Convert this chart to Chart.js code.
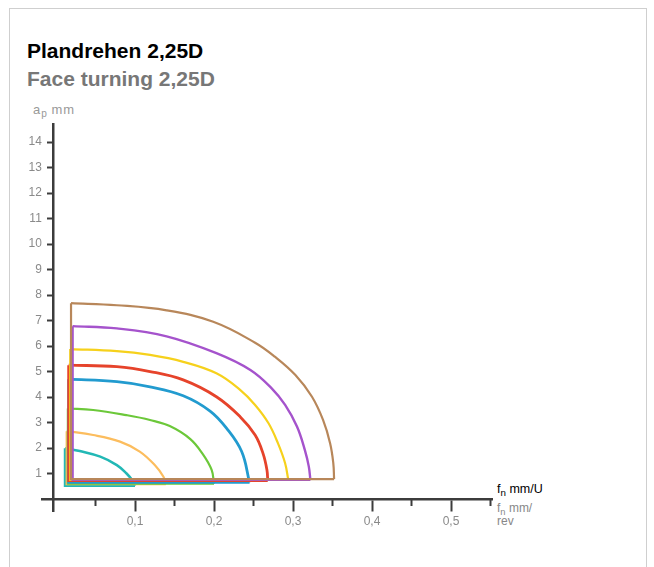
<!DOCTYPE html>
<html><head><meta charset="utf-8">
<script src="https://cdn.jsdelivr.net/npm/chart.js@4.4.0/dist/chart.umd.min.js"></script>
<style>
html,body{margin:0;padding:0;background:#fff;}
body{width:654px;height:567px;position:relative;overflow:hidden;font-family:"Liberation Sans",Arial,Helvetica,sans-serif;}
#frame{position:absolute;left:9px;top:8px;width:636px;height:620px;border:1px solid #cfcfcf;}
.t{position:absolute;white-space:nowrap;}
#t1{left:27px;top:41px;font-weight:bold;font-size:21px;line-height:20px;color:#000;}
#t2{left:27px;top:69px;font-weight:bold;font-size:21px;line-height:20px;color:#777;}
#ya{left:33px;top:104px;font-size:13px;line-height:12px;color:#999;letter-spacing:1px;}
#xa1{left:497px;top:483px;font-size:12.5px;line-height:12px;color:#000;}
#xa2{left:497px;top:502px;font-size:12px;line-height:12.5px;color:#888;}
sub{font-size:0.78em;vertical-align:-0.3em;line-height:0;letter-spacing:0;}
canvas{position:absolute;left:0;top:0;}
</style>
</head><body>
<div id="frame"></div>
<div class="t" id="t1">Plandrehen 2,25D</div>
<div class="t" id="t2">Face turning 2,25D</div>
<div class="t" id="ya">a<sub>p</sub> mm</div>
<div class="t" id="xa1">f<sub>n</sub> mm/U</div>
<div class="t" id="xa2">f<sub>n</sub> mm/<br>rev</div>
<canvas id="c" width="654" height="567"></canvas>
<script>
// ---- data ----
const brownX  = [0.019, 0.077, 0.140, 0.199, 0.252, 0.277, 0.303, 0.324, 0.338, 0.347, 0.351, 0.352];
const brownY  = [7.68, 7.60, 7.40, 6.95, 6.13, 5.58, 4.86, 4.01, 3.10, 2.18, 1.40, 0.78];
const purpleX = [0.021, 0.077, 0.140, 0.203, 0.246, 0.273, 0.290, 0.305, 0.315, 0.320, 0.322];
const purpleY = [6.78, 6.69, 6.38, 5.72, 5.06, 4.34, 3.69, 2.84, 1.92, 1.27, 0.75];
const yellowX = [0.018, 0.077, 0.119, 0.161, 0.203, 0.233, 0.252, 0.269, 0.281, 0.290, 0.294];
const yellowY = [5.88, 5.80, 5.65, 5.38, 4.93, 4.28, 3.69, 2.97, 2.18, 1.40, 0.75];
const redX    = [0.016, 0.077, 0.119, 0.161, 0.203, 0.233, 0.252, 0.262, 0.267, 0.268];
const redY    = [5.25, 5.19, 5.00, 4.67, 4.01, 3.23, 2.51, 1.79, 1.14, 0.72];
const blueX   = [0.016, 0.077, 0.119, 0.161, 0.195, 0.216, 0.235, 0.245];
const blueY   = [4.70, 4.60, 4.40, 4.05, 3.45, 2.77, 1.86, 0.65];
const greenX  = [0.015, 0.047, 0.089, 0.119, 0.144, 0.170, 0.186, 0.197, 0.200];
const greenY  = [3.55, 3.49, 3.29, 3.10, 2.86, 2.35, 1.75, 1.14, 0.60];
const orangeX = [0.0135, 0.047, 0.081, 0.106, 0.125, 0.136, 0.139];
const orangeY = [2.66, 2.51, 2.25, 1.86, 1.33, 0.87, 0.58];
const cyanX   = [0.0114, 0.030, 0.056, 0.077, 0.089, 0.098, 0.100];
const cyanY   = [1.99, 1.88, 1.66, 1.33, 1.01, 0.68, 0.52];

const xMajorTicks  = [0.1, 0.2, 0.3, 0.4, 0.5];
const xTickLabels  = ['0,1', '0,2', '0,3', '0,4', '0,5'];
const xMinorTicks  = [0.05, 0.15, 0.25, 0.35, 0.45, 0.55];
const yTicks       = [1, 2, 3, 4, 5, 6, 7, 8, 9, 10, 11, 12, 13, 14];
const yTickLabels  = ['1','2','3','4','5','6','7','8','9','10','11','12','13','14'];

// ---- styles ----
const curveXs = [brownX, purpleX, yellowX, redX, blueX, greenX, orangeX, cyanX];
const curveYs = [brownY, purpleY, yellowY, redY, blueY, greenY, orangeY, cyanY];
const colors  = ['#b8875a', '#a553cc', '#f6d11c', '#e6432b', '#229bcf', '#6cc83a', '#fcbd5e', '#22b8b5'];
const widths  = [2.2, 2.4, 2.2, 2.8, 2.8, 2.2, 2.2, 2.5];
const axisColor = '#3c3c3c';
const X_MIN = -0.018, X_MAX = 0.552, Y_MIN = -0.5, Y_MAX = 14.7, Y_AXIS_AT = -0.004;

const datasets = [];
curveXs.forEach((xs, i) => {
  const ys = curveYs[i];
  const arc = xs.map((x, k) => ({x: x, y: ys[k]}));
  const n = xs.length - 1;
  const frame = [{x: xs[n], y: ys[n]}, {x: xs[0], y: ys[n]}, {x: xs[0], y: ys[0]}];
  datasets.push({data: arc, borderColor: colors[i], borderWidth: widths[i], tension: 0.4,
    showLine: true, pointRadius: 0, fill: false, xAxisID: 'x', yAxisID: 'y'});
  datasets.push({data: frame, borderColor: colors[i], borderWidth: widths[i], tension: 0,
    showLine: true, pointRadius: 0, fill: false, xAxisID: 'x', yAxisID: 'y', borderJoinStyle: 'miter'});
});

new Chart(document.getElementById('c'), {
  type: 'scatter',
  data: {datasets},
  options: {
    responsive: false,
    animation: false,
    devicePixelRatio: 1,
    layout: {padding: {left: 11.8, right: 161.9, top: 124.2, bottom: 55.25}},
    plugins: {legend: {display: false}, tooltip: {enabled: false}, title: {display: false}},
    scales: {
      x: {
        type: 'linear', min: X_MIN, max: X_MAX, position: {y: 0},
        afterBuildTicks: s => { s.ticks = xMajorTicks.map(v => ({value: v})); },
        grid: {drawOnChartArea: false, drawTicks: true, tickLength: 11, tickWidth: 2, tickColor: axisColor},
        border: {display: true, color: axisColor, width: 2.5},
        ticks: {autoSkip: false, maxRotation: 0, padding: 4, color: '#8a8a8a',
          font: {family: 'Liberation Sans, Arial, sans-serif', size: 12},
          callback: (v, i) => xTickLabels[i]}
      },
      x2: {
        type: 'linear', axis: 'x', min: X_MIN, max: X_MAX, position: {y: 0},
        afterBuildTicks: s => { s.ticks = xMinorTicks.map(v => ({value: v})); },
        grid: {drawOnChartArea: false, drawTicks: true, tickLength: 7, tickWidth: 2, tickColor: axisColor},
        border: {display: false},
        ticks: {display: false}
      },
      y: {
        type: 'linear', min: Y_MIN, max: Y_MAX, position: {x: Y_AXIS_AT},
        afterBuildTicks: s => { s.ticks = yTicks.map(v => ({value: v})); },
        grid: {drawOnChartArea: false, drawTicks: true, tickLength: 5, tickWidth: 2, tickColor: axisColor},
        border: {display: true, color: axisColor, width: 2.5},
        ticks: {display: false}
      },
      yLabels: {
        type: 'linear', axis: 'y', min: Y_MIN, max: Y_MAX, position: 'left',
        afterBuildTicks: s => { s.ticks = yTicks.map(v => ({value: v})); },
        afterFit: s => { s.width = 30; },
        grid: {display: false, drawTicks: false},
        border: {display: false},
        ticks: {autoSkip: false, padding: 0, color: '#8a8a8a',
          font: {family: 'Liberation Sans, Arial, sans-serif', size: 12},
          callback: (v, i) => yTickLabels[i]}
      }
    }
  }
});
</script>
</body></html>
